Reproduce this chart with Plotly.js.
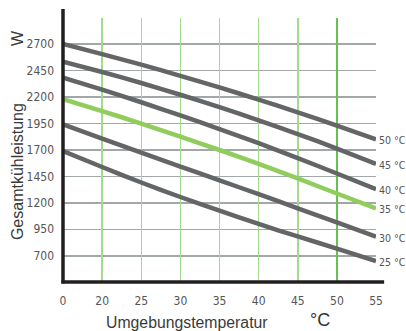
<!DOCTYPE html>
<html>
<head>
<meta charset="utf-8">
<script src="https://cdn.plot.ly/plotly-3.0.1.min.js"></script>
<style>html,body{margin:0;padding:0;background:#fff;}#chart{width:406px;height:331px;}</style>
</head>
<body>
<div id="chart"></div>
<script>
// ---- data ----
const xLabels = ['0', '20', '25', '30', '35', '40', '45', '50', '55'];
const yTicks = [700, 950, 1200, 1450, 1700, 1950, 2200, 2450, 2700];
const seriesNames = ['50 °C', '45 °C', '40 °C', '35 °C', '30 °C', '25 °C'];
const s50 = [2700, 2605, 2505, 2400, 2290, 2175, 2055, 1930, 1800];
const s45 = [2533, 2436, 2332, 2221, 2104, 1980, 1850, 1713, 1568];
const s40 = [2382, 2269, 2150, 2026, 1897, 1763, 1623, 1477, 1328];
const s35 = [2180, 2067, 1949, 1826, 1699, 1567, 1430, 1288, 1148];
const s30 = [1941, 1806, 1675, 1543, 1412, 1282, 1148, 1015, 880];
const s25 = [1689, 1538, 1392, 1255, 1127, 1000, 882, 768, 650];
const seriesValues = [s50, s45, s40, s35, s30, s25];
const seriesColors = ['#646567', '#646567', '#646567', '#90cd5c', '#646567', '#646567'];

const xIdx = xLabels.map((_, i) => i);
const condFont = 'DejaVu Sans Condensed, Liberation Sans Narrow, sans-serif';
const tickFont = {family: condFont, size: 12, color: '#555555'};
const titleFont = 'Liberation Sans, Arial, sans-serif';

const traces = seriesValues.map((vals, k) => ({
  x: xIdx, y: vals, type: 'scatter', mode: 'lines',
  line: {color: seriesColors[k], width: 4.5, shape: 'spline', smoothing: 0.5},
  hoverinfo: 'skip', showlegend: false
}));
// empty traces that carry the grid-only axes
traces.push({x: [0], y: [null], xaxis: 'x2', yaxis: 'y', showlegend: false, hoverinfo: 'skip'});
traces.push({x: [0], y: [null], xaxis: 'x3', yaxis: 'y', showlegend: false, hoverinfo: 'skip'});

const annotations = seriesValues.map((vals, k) => ({
  x: xIdx[xIdx.length - 1], y: vals[vals.length - 1], xref: 'x', yref: 'y',
  text: seriesNames[k], showarrow: false, xanchor: 'left', yanchor: 'middle',
  xshift: 2, yshift: -1, borderpad: 0,
  font: {family: condFont, size: 10.5, color: '#555555'}
}));
annotations.push(
  {text: 'Umgebungstemperatur', xref: 'paper', yref: 'paper', x: 0.395, y: 0, yshift: -40,
   showarrow: false, xanchor: 'center', yanchor: 'middle',
   font: {family: titleFont, size: 15.8, color: '#3a3a3a'}},
  {text: '°C', xref: 'paper', yref: 'paper', x: 0.822, y: 0, yshift: -49, borderpad: 0,
   showarrow: false, xanchor: 'center', yanchor: 'bottom',
   font: {family: titleFont, size: 18, color: '#333333'}},
  {text: 'Gesamtkühleistung', xref: 'paper', yref: 'paper', x: 0, xshift: -46, y: 0.405, yshift: 3,
   showarrow: false, textangle: -90, xanchor: 'center', yanchor: 'middle',
   font: {family: titleFont, size: 16, color: '#3a3a3a'}},
  {text: 'W', xref: 'paper', yref: 'paper', x: 0, xshift: -46, y: 1, yshift: -20,
   showarrow: false, textangle: -90, xanchor: 'center', yanchor: 'middle',
   font: {family: titleFont, size: 16, color: '#3a3a3a'}}
);

const layout = {
  width: 406, height: 331,
  margin: {l: 63, r: 30, t: 18, b: 49},
  paper_bgcolor: '#ffffff', plot_bgcolor: '#ffffff',
  showlegend: false,
  xaxis: {
    range: [0, 8], tickvals: xIdx, ticktext: xLabels, showgrid: false, zeroline: false,
    showline: false, ticks: '', ticklabelstandoff: 10, tickfont: tickFont, fixedrange: true
  },
  xaxis2: {
    range: [0, 8], overlaying: 'x', tickvals: xIdx.slice(1, xIdx.length - 2), showgrid: true,
    gridcolor: '#a3da8c', gridwidth: 1.5, showticklabels: false, ticks: '', zeroline: false,
    showline: false, layer: 'below traces'
  },
  xaxis3: {
    range: [0, 8], overlaying: 'x', tickvals: [xIdx[xIdx.length - 2]], showgrid: true,
    gridcolor: '#66c24f', gridwidth: 1.5, showticklabels: false, ticks: '', zeroline: false,
    showline: false, layer: 'below traces'
  },
  yaxis: {
    range: [452, 2946], tickvals: yTicks, showgrid: true, gridcolor: '#a2a7aa', gridwidth: 1.5,
    zeroline: false, showline: false, ticks: '', ticklabelstandoff: 8, tickfont: tickFont
  },
  shapes: [
    {type: 'line', xref: 'paper', yref: 'paper', x0: 0, x1: 0, y0: -0.006, y1: 1.034,
     line: {color: '#231f20', width: 3.5}, layer: 'above'},
    {type: 'line', xref: 'paper', yref: 'paper', x0: -0.005, x1: 1.026, y0: 0, y1: 0,
     line: {color: '#231f20', width: 3.5}, layer: 'above'}
  ],
  annotations: annotations
};

Plotly.newPlot('chart', traces, layout, {staticPlot: true, displayModeBar: false});
</script>
</body>
</html>
